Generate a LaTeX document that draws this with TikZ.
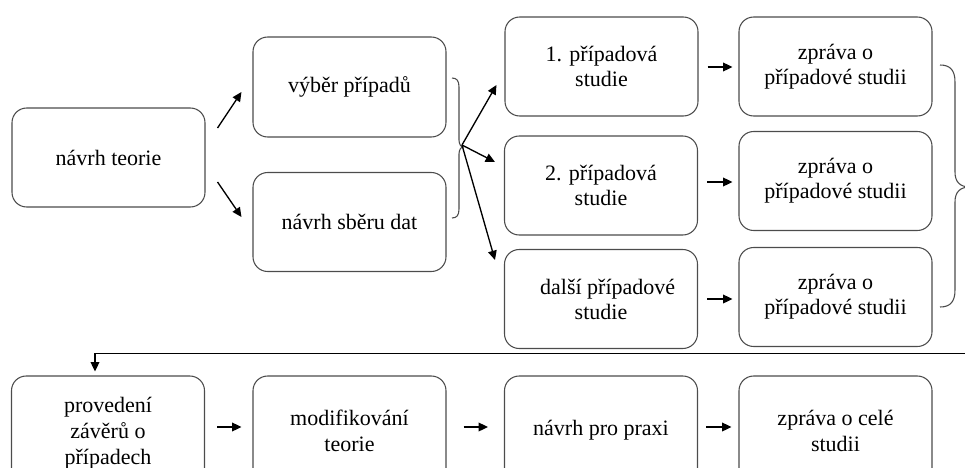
\documentclass[tikz,border=0pt]{standalone}
\usepackage{fontspec}
\setmainfont{Liberation Serif}
\usetikzlibrary{arrows.meta,calc}

\tikzset{
  box/.style={draw=black!70, line width=0.8pt, rounded corners=11pt,
    minimum width=144.75pt, minimum height=74.25pt, inner sep=0pt,
    align=center, font=\fontsize{16.5}{18.75}\selectfont},
  lowbox/.style={box, minimum height=81.75pt,
    font=\fontsize{16.5}{19.5}\selectfont},
  arr/.style={draw=black, line width=1pt,
    -{Triangle[length=7pt,width=6.5pt]}},
  bracket/.style={draw=black!70, line width=0.8pt}
}

\begin{document}
\begin{tikzpicture}[x=0.75pt,y=-0.75pt]
  \useasboundingbox (0,0) rectangle (965,468);
  \clip (0,0) rectangle (965,468);

  % design stage
  \node[box] (t)  at (108.5,157.5) {návrh teorie};
  \node[box, minimum height=75pt] (v) at (349.5,87) {výběr případů};
  \node[box] (s)  at (349.5,222) {návrh sběru dat};

  % individual case studies
  \node[box] (c1) at (601.5,66.5) {1. případová\\studie};
  \node[box] (c2) at (601,185.5) {2. případová\\studie};
  \node[box] (c3) at (601,299)  {\hspace*{10pt}další případové\\studie};

  % case reports
  \node[box] (z1) at (835.5,66.5) {zpráva o\\případové studii};
  \node[box] (z2) at (835.5,181)  {zpráva o\\případové studii};
  \node[box] (z3) at (835.5,297)  {zpráva o\\případové studii};

  % cross-case stage (boxes run past the lower edge)
  \node[lowbox] (b1) at (108,430.5)   {\rule{0pt}{15pt}provedení\\závěrů o\\případech};
  \node[lowbox] (b2) at (349.5,430.5) {modifikování\\teorie};
  \node[lowbox] (b3) at (601,430.5)   {návrh pro praxi};
  \node[lowbox] (b4) at (835.5,430.5) {zpráva o celé\\studii};

  % theory -> selection / data collection
  \draw[arr] ($(t.east)+(12,-29.5)$) -- ($(v.west)+(-11,5)$);
  \draw[arr] ($(t.east)+(12,24.5)$) -- ($(s.west)+(-11,-5)$);

  % brace joining selection and data collection
  \draw[bracket] (452,78) .. controls (457,78) and (459,81) .. (459,87)
    -- (459,140) .. controls (459,144) and (461,147) .. (463,147)
    .. controls (461,147) and (459,150) .. (459,154)
    -- (459,209) .. controls (459,215) and (457,218) .. (452,218);
  \coordinate (bt) at (462,145);

  \draw[arr] (bt) -- ($(c1.west)+(-8,18.5)$);
  \draw[arr] (bt) -- ($(c2.west)+(-9,-23.5)$);
  \draw[arr] (bt) -- ($(c3.west)+(-9,-39)$);

  % studies -> reports
  \draw[arr] ($(c1.east)+(9,0.5)$) -- ($(c1.east -| z1.west)+(-6,0.5)$);
  \draw[arr] ($(c2.east)+(9,-3.5)$) -- ($(c2.east -| z2.west)+(-6,-3.5)$);
  \draw[arr] ($(c3.east)+(9,0)$) -- ($(c3.east -| z3.west)+(-6,0)$);

  % brace joining the reports
  \draw[bracket] (940,65) .. controls (950,65) and (955,70) .. (955,82)
    -- (955,172) .. controls (955,182) and (960,187) .. (970,187)
    .. controls (960,187) and (955,192) .. (955,202)
    -- (955,290) .. controls (955,302) and (950,307) .. (940,307);
  \coordinate (rb) at (970,187);

  % feedback line to the cross-case stage
  \draw[arr] (rb) |- ($(b1.north)+(-13,-22)$) -- ($(b1.north)+(-13,-4)$);

  % bottom row
  \draw[arr] ($(b1.east)+(12,-3.5)$) -- ($(b2.west)+(-11,-3.5)$);
  \draw[arr] ($(b2.east)+(17,-3.5)$) -- ($(b3.west)+(-16,-3.5)$);
  \draw[arr] ($(b3.east)+(8,-3.5)$) -- ($(b4.west)+(-7,-3.5)$);
\end{tikzpicture}
\end{document}
